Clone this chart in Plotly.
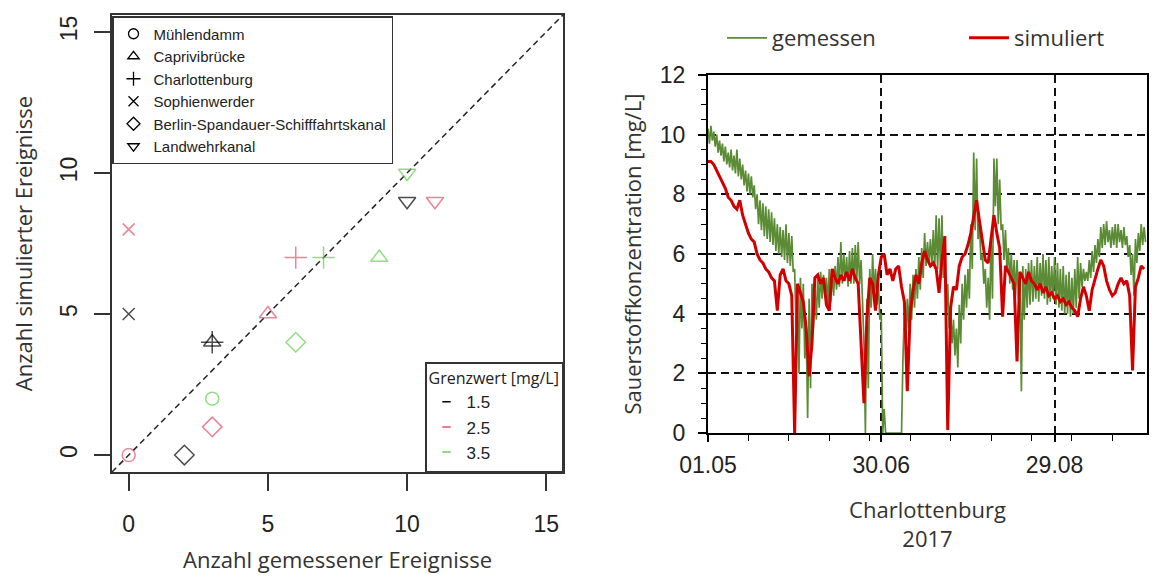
import plotly.graph_objects as go
import pandas as pd

# the page body adds an 8px offset, so positions are shifted back by that amount
OFFSET = 8
W, H = 1157 - OFFSET, 579 - OFFSET

# ---------------- left panel data ----------------
stations = ["Mühlendamm", "Caprivibrücke", "Charlottenburg", "Sophienwerder",
            "Berlin-Spandauer-Schifffahrtskanal", "Landwehrkanal"]
station_symbols = ["circle-open", "triangle-up-open", "cross-thin-open", "x-thin-open",
                   "diamond-open", "triangle-down-open"]
station_marker_sizes = [13, 15, 16, 12, 15, 15]
thresholds = ["1.5", "2.5", "3.5"]
threshold_colors = ["#000000", "#DF536B", "#61D04F"]

measured_15 = [None, 3, 3, 0, 2, 10]
simulated_15 = [None, 4, 4, 5, 0, 9]
measured_25 = [0, 5, 6, 0, 3, 11]
simulated_25 = [0, 5, 7, 8, 1, 9]
measured_35 = [3, 9, 7, None, 6, 10]
simulated_35 = [2, 7, 7, None, 4, 10]

count_ticks = [0, 5, 10, 15]
count_range = [-0.6, 15.6]

# ---------------- right panel data ----------------
start_date = "2017-05-01"
date_ticks = ["2017-05-01", "2017-06-30", "2017-08-29"]
date_ticklabels = ["01.05", "30.06", "29.08"]
date_range = ["2017-05-01", "2017-09-30"]

# measured oxygen (two readings per day)
gemessen = [
    10.2, 9.7, 10.3, 9.8, 10.1, 9.6, 10.0, 9.4, 9.8, 9.3, 9.7, 9.1, 9.6, 9.0, 9.4, 8.9,
    9.5, 8.8, 9.3, 8.7, 9.5, 8.6, 9.2, 8.5, 9.0, 8.3, 8.8, 8.1, 8.7, 8.0, 8.6, 7.9,
    8.3, 7.5, 8.0, 7.0, 7.8, 6.8, 7.7, 6.6, 7.6, 6.5, 7.5, 6.4, 7.4, 6.3, 7.2, 6.1,
    7.0, 6.0, 6.9, 5.9, 6.8, 5.8, 7.0, 5.7, 6.7, 5.6, 6.6, 5.4, 5.5, 3.5, 4.5, 2.0,
    5.2, 3.5, 5.0, 2.5, 3.5, 0.5, 4.5, 1.5, 5.0, 3.5, 4.8, 3.8, 5.2, 4.2, 5.4, 4.5,
    5.3, 4.6, 5.2, 4.3, 5.5, 4.4, 5.4, 4.6, 5.6, 4.8, 5.9, 4.9, 6.4, 5.0, 6.0, 5.1,
    5.9, 4.9, 6.1, 5.0, 6.2, 5.0, 6.3, 5.1, 6.4, 5.0, 5.8, 4.5, 3.0, 0.0, 4.5, 1.5,
    5.5, 4.2, 6.0, 4.6, 5.5, 4.3, 5.0, 3.8, 4.0, 0.0, 0.8, 0.0, 0.0, 0.0, 0.0, 0.0,
    0.0, 0.0, 0.0, 0.0, 0.0, 0.0, 0.0, 2.5, 4.0, 3.0, 4.5, 3.5, 5.0, 3.8, 5.3, 4.2,
    5.5, 4.5, 5.9, 4.8, 6.2, 5.2, 6.7, 5.6, 6.4, 5.7, 6.5, 5.6, 6.8, 5.5, 7.3, 5.5,
    7.2, 5.4, 7.3, 5.2, 6.0, 4.0, 5.0, 3.5, 4.1, 3.0, 3.8, 2.6, 3.5, 2.2, 4.3, 3.0,
    5.0, 3.8, 5.3, 4.2, 5.5, 4.5, 7.0, 5.5, 9.4, 6.8, 9.2, 6.5, 7.0, 5.8, 6.0, 5.0,
    5.5, 4.2, 5.2, 3.8, 6.5, 4.5, 9.2, 7.6, 9.2, 7.0, 8.5, 6.8, 7.0, 5.8, 6.8, 5.5,
    6.2, 5.0, 6.0, 4.8, 5.8, 4.6, 5.8, 4.5, 5.3, 1.4, 5.6, 3.8, 5.5, 4.2, 5.7, 4.3,
    5.8, 4.4, 5.6, 4.5, 5.9, 4.4, 5.7, 4.6, 6.0, 4.5, 5.8, 4.3, 5.9, 4.4, 5.6, 4.5,
    5.9, 4.3, 5.7, 4.2, 5.5, 4.1, 5.6, 4.0, 5.3, 4.0, 5.4, 3.9, 5.2, 4.0, 5.5, 4.2,
    5.9, 4.5, 5.7, 4.9, 5.5, 5.1, 5.4, 5.1, 5.8, 5.2, 6.1, 5.4, 6.3, 5.7, 6.5, 5.9,
    6.9, 6.2, 7.0, 6.3, 7.1, 6.4, 6.8, 6.2, 6.9, 6.3, 7.0, 6.2, 7.0, 6.4, 6.8, 6.2,
    6.9, 6.3, 6.6, 5.9, 6.3, 5.3, 6.0, 4.6, 6.5, 5.7, 6.7, 6.1, 7.0, 6.3, 6.9, 6.4,
]

# simulated oxygen (daily)
simuliert = [
    9.1, 9.1, 9.0, 8.8, 8.6, 8.4, 8.2, 7.9, 7.8, 7.6, 7.5, 7.8, 7.3, 7.0, 6.7, 6.5,
    6.4, 6.0, 5.8, 5.7, 5.5, 5.4, 5.2, 5.1, 4.1, 5.3, 5.5, 5.1, 5.0, 4.6, 0.0, 5.0,
    4.7, 4.4, 3.5, 1.9, 3.0, 5.2, 5.3, 5.0, 5.2, 4.3, 4.1, 5.5, 5.2, 5.0, 5.3, 5.1,
    5.4, 5.1, 5.5, 5.2, 5.0, 3.0, 1.0, 3.8, 5.2, 5.0, 4.1, 5.3, 5.9, 6.0, 5.3, 5.5,
    5.1, 5.5, 5.6, 4.9, 4.4, 1.4, 4.0, 4.8, 5.3, 5.0, 5.7, 6.1, 5.8, 5.6, 5.7, 5.5,
    4.7, 5.8, 6.6, 0.1, 4.2, 4.9, 4.8, 5.6, 5.9, 6.0, 6.3, 6.7, 7.2, 7.8, 7.1, 6.4,
    5.8, 5.7, 6.6, 7.3, 6.7, 6.2, 3.9, 5.6, 5.4, 5.2, 5.0, 2.4, 5.4, 5.2, 5.0, 5.4,
    5.1, 5.0, 4.8, 5.0, 4.7, 4.9, 4.6, 4.7, 4.5, 4.6, 4.4, 4.5, 4.3, 4.4, 4.2, 4.1,
    3.9, 4.5, 4.9, 4.6, 4.1, 4.8, 5.2, 5.5, 5.8, 5.6, 5.1, 4.8, 4.6, 4.7, 5.0, 5.2,
    5.0, 5.1, 4.6, 2.1, 4.9, 5.2, 5.6, 5.5,
]

oxygen_ticks = [0, 2, 4, 6, 8, 10, 12]
oxygen_range = [0, 12]

green_line = "#5B8C35"
red_line = "#D10000"

gemessen_time = pd.date_range(start_date, periods=len(gemessen), freq="12h")
simuliert_time = pd.date_range(start_date, periods=len(simuliert), freq="D")


def px(x):
    return (x - OFFSET) / W


def py(y):
    return 1 - (y - OFFSET) / H


fig = go.Figure()

# identity reference line across the full axis range
fig.add_trace(go.Scatter(x=count_range, y=count_range, mode="lines",
                         line=dict(color="#222222", width=1.5, dash="6px,4px"),
                         showlegend=False, hoverinfo="skip", xaxis="x", yaxis="y"))

for t, col, mx, sy in zip(thresholds, threshold_colors,
                          [measured_15, measured_25, measured_35],
                          [simulated_15, simulated_25, simulated_35]):
    fig.add_trace(go.Scatter(x=mx, y=sy, mode="markers", name=t,
                             marker=dict(symbol=station_symbols, size=station_marker_sizes,
                                         color=col, line=dict(color=col, width=1.5)),
                             showlegend=False, xaxis="x", yaxis="y"))

# symbol legend entries
for name, sym in zip(stations, station_symbols):
    fig.add_trace(go.Scatter(x=[None], y=[None], mode="markers", name=name,
                             marker=dict(symbol=sym, size=10, color="black",
                                         line=dict(color="black", width=1.3)),
                             legend="legend", xaxis="x", yaxis="y"))

# threshold legend entries
for t, col in zip(thresholds, threshold_colors):
    fig.add_trace(go.Scatter(x=[None], y=[None], mode="markers", name=t,
                             marker=dict(symbol="line-ew-open", size=6, color=col,
                                         line=dict(color=col, width=1.5)),
                             legend="legend2", xaxis="x", yaxis="y"))

# time series
fig.add_trace(go.Scatter(x=gemessen_time, y=gemessen, mode="lines", name="gemessen",
                         line=dict(color=green_line, width=1.7),
                         legend="legend3", xaxis="x2", yaxis="y2"))
fig.add_trace(go.Scatter(x=simuliert_time, y=simuliert, mode="lines", name="simuliert",
                         line=dict(color=red_line, width=3),
                         legend="legend4", xaxis="x2", yaxis="y2"))

num_font = dict(family="Liberation Sans, Arial", size=23, color="#222222")
title_font = dict(family="Open Sans", size=22, color="#333333")
series_legend_font = dict(family="Open Sans", size=22, color="#333333")

fig.update_layout(
    width=W, height=H, autosize=False,
    margin=dict(l=0, r=0, t=0, b=0),
    paper_bgcolor="white", plot_bgcolor="white",
    xaxis=dict(domain=[px(112), px(563)], range=count_range, tickvals=count_ticks,
               ticks="outside", ticklen=17, tickwidth=1.5, tickcolor="#333333",
               showline=True, linecolor="#333333", linewidth=1.5, mirror=True,
               showgrid=False, zeroline=False, tickfont=num_font, ticklabelstandoff=14,
               title=dict(text="Anzahl gemessener Ereignisse", font=title_font, standoff=16),
               automargin=False, anchor="y"),
    yaxis=dict(domain=[py(472), py(15)], range=count_range, tickvals=count_ticks,
               ticks="outside", ticklen=16, tickwidth=1.5, tickcolor="#333333",
               showline=True, linecolor="#333333", linewidth=1.5, mirror=True,
               showgrid=False, zeroline=False, tickfont=num_font, tickangle=-90,
               ticklabelstandoff=8,
               title=dict(text="Anzahl simulierter Ereignisse", font=title_font, standoff=28),
               automargin=False, anchor="x"),
    xaxis2=dict(domain=[px(708), px(1147)], type="date", range=date_range,
                tickvals=date_ticks, ticktext=date_ticklabels,
                ticks="outside", ticklen=7, tickwidth=1.5, tickcolor="black",
                minor=dict(tick0=start_date, dtick=14 * 86400000, ticks="outside",
                           ticklen=6, tickwidth=1.2, tickcolor="black", showgrid=False),
                showline=True, linecolor="black", linewidth=2, mirror=True,
                showgrid=True, gridcolor="#111111", gridwidth=1.8, griddash="8px,5px",
                zeroline=False, tickfont=num_font, ticklabelstandoff=3,
                title=dict(text="Charlottenburg<br>2017", font=title_font, standoff=26),
                automargin=False, anchor="y2"),
    yaxis2=dict(domain=[py(433), py(75)], range=oxygen_range, tickvals=oxygen_ticks,
                ticks="outside", ticklen=8, tickwidth=1.5, tickcolor="black",
                minor=dict(dtick=0.5, ticks="outside", ticklen=5, tickwidth=1.2,
                           tickcolor="black", showgrid=False),
                showline=True, linecolor="black", linewidth=2, mirror=True,
                showgrid=True, gridcolor="#111111", gridwidth=1.8, griddash="8px,5px",
                zeroline=False, tickfont=num_font, ticklabelstandoff=8,
                title=dict(text="Sauerstoffkonzentration [mg/L]", font=title_font, standoff=12),
                automargin=False, anchor="x2"),
    legend=dict(x=px(112), y=py(16), xanchor="left", yanchor="top",
                bgcolor="white", bordercolor="#333333", borderwidth=1.5,
                font=dict(family="Liberation Sans, Arial", size=15, color="#222222"),
                itemwidth=30, tracegroupgap=0),
    legend2=dict(x=px(563), y=py(472), xanchor="right", yanchor="bottom",
                 bgcolor="white", bordercolor="#333333", borderwidth=1.5,
                 title=dict(text="Grenzwert [mg/L]",
                            font=dict(family="Open Sans", size=16, color="#222222"),
                            side="top"),
                 font=dict(family="Liberation Sans, Arial", size=17, color="#222222"),
                 itemwidth=30, tracegroupgap=0),
    legend3=dict(x=px(722), y=py(38), xanchor="left", yanchor="middle",
                 orientation="h", bgcolor="rgba(0,0,0,0)", font=series_legend_font,
                 itemwidth=40),
    legend4=dict(x=px(964), y=py(38), xanchor="left", yanchor="middle",
                 orientation="h", bgcolor="rgba(0,0,0,0)", font=series_legend_font,
                 itemwidth=40),
)

fig.write_html("out.html")
